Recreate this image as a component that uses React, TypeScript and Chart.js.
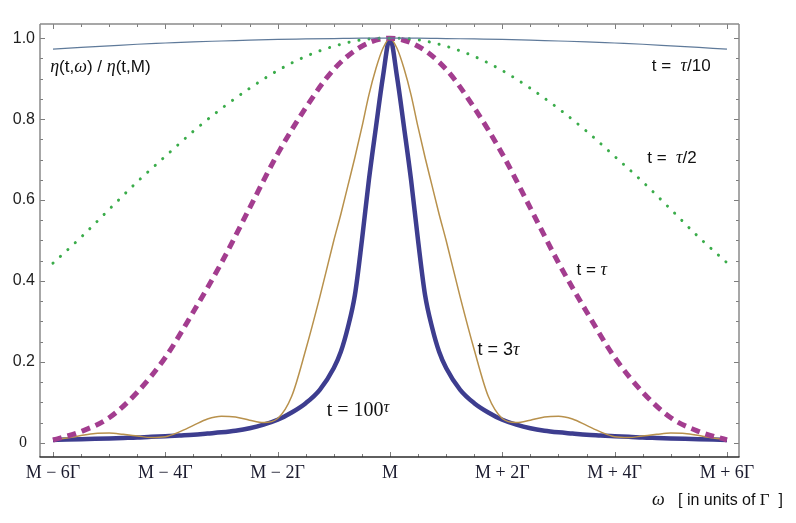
import React, { useEffect, useRef } from "react";
import { Chart, registerables } from "chart.js";

Chart.register(...registerables);

// ω grid in units of Γ, measured from M
const omegaCoarse = [-6, -5.5, -5, -4.5, -4, -3.5, -3, -2.5, -2, -1.5, -1, -0.5, 0, 0.5, 1, 1.5, 2, 2.5, 3, 3.5, 4, 4.5, 5, 5.5, 6];
const omegaFine = [
	-6, -5.75, -5.5, -5.25, -5, -4.75, -4.5, -4.25, -4, -3.75, -3.5, -3.25, -3, -2.75, -2.5, -2.25, -2, -1.75, -1.5, -1.25, -1,
	-0.875, -0.75, -0.625, -0.5, -0.375, -0.25, -0.125, 0, 0.125, 0.25, 0.375, 0.5, 0.625, 0.75, 0.875,
	1, 1.25, 1.5, 1.75, 2, 2.25, 2.5, 2.75, 3, 3.25, 3.5, 3.75, 4, 4.25, 4.5, 4.75, 5, 5.25, 5.5, 5.75, 6,
];

// η(t,ω)/η(t,M)
const etaTenth = [0.973, 0.977, 0.981, 0.985, 0.988, 0.991, 0.993, 0.995, 0.997, 0.998, 0.999, 1.0, 1.0, 1.0, 0.999, 0.998, 0.997, 0.995, 0.993, 0.991, 0.988, 0.985, 0.981, 0.977, 0.973];
const etaHalf = [0.444, 0.508, 0.577, 0.645, 0.708, 0.77, 0.826, 0.876, 0.92, 0.955, 0.98, 0.996, 1.0, 0.996, 0.98, 0.955, 0.92, 0.876, 0.826, 0.77, 0.708, 0.645, 0.577, 0.508, 0.445];
const etaOne = [0.007, 0.028, 0.062, 0.125, 0.211, 0.324, 0.445, 0.58, 0.714, 0.828, 0.923, 0.98, 1.0, 0.98, 0.923, 0.828, 0.714, 0.58, 0.445, 0.324, 0.211, 0.125, 0.062, 0.028, 0.007];
const etaThree = [
	0.008, 0.012, 0.018, 0.023, 0.024, 0.021, 0.017, 0.013, 0.015, 0.027, 0.043, 0.059, 0.066, 0.064, 0.056, 0.05, 0.06, 0.115, 0.23, 0.36, 0.5,
	0.565, 0.635, 0.705, 0.78, 0.86, 0.925, 0.975, 1.0, 0.975, 0.925, 0.86, 0.78, 0.705, 0.635, 0.565,
	0.5, 0.36, 0.23, 0.115, 0.06, 0.05, 0.056, 0.064, 0.066, 0.059, 0.043, 0.027, 0.015, 0.013, 0.017, 0.021, 0.024, 0.023, 0.018, 0.012, 0.008,
];
const etaHundred = [
	0.007, 0.008, 0.009, 0.01, 0.011, 0.012, 0.013, 0.015, 0.016, 0.018, 0.02, 0.023, 0.026, 0.03, 0.036, 0.045, 0.057, 0.075, 0.098, 0.131, 0.185,
	0.225, 0.285, 0.365, 0.5, 0.65, 0.78, 0.905, 1.0, 0.905, 0.78, 0.65, 0.5, 0.365, 0.285, 0.225,
	0.185, 0.131, 0.098, 0.075, 0.057, 0.045, 0.036, 0.03, 0.026, 0.023, 0.02, 0.018, 0.016, 0.015, 0.013, 0.012, 0.011, 0.01, 0.009, 0.008, 0.007,
];

const xTickValues = [-6, -4, -2, 0, 2, 4, 6];
const xTickLabels = ["M \u2212 6\u0393", "M \u2212 4\u0393", "M \u2212 2\u0393", "M", "M + 2\u0393", "M + 4\u0393", "M + 6\u0393"];
const yTickValues = [0, 0.2, 0.4, 0.6, 0.8, 1.0];
const yTickLabels = ["0", "0.2", "0.4", "0.6", "0.8", "1.0"];

const serifIt = (s: number) => `italic ${s}px "Liberation Serif"`;
const serif = (s: number) => `${s}px "Liberation Serif"`;
const sans = (s: number) => `${s}px "Liberation Sans"`;

type Part = { text: string; font: string; dy?: number };

// labels placed in data coordinates (left edge, baseline)
const curveNotes: { x: number; y: number; parts: Part[] }[] = [
	{
		x: -6.05, y: 0.916,
		parts: [
			{ text: "\u03b7", font: serifIt(18) }, { text: "(t,", font: sans(17) }, { text: "\u03c9", font: serifIt(18) },
			{ text: ") / ", font: sans(17) }, { text: "\u03b7", font: serifIt(18) }, { text: "(t,M)", font: sans(17) },
		],
	},
	{ x: 4.66, y: 0.919, parts: [{ text: "t =  ", font: sans(17) }, { text: "\u03c4", font: serifIt(18) }, { text: "/10", font: sans(17) }] },
	{ x: 4.58, y: 0.692, parts: [{ text: "t =  ", font: sans(17) }, { text: "\u03c4", font: serifIt(18) }, { text: "/2", font: sans(17) }] },
	{ x: 3.32, y: 0.415, parts: [{ text: "t = ", font: sans(17) }, { text: "\u03c4", font: serifIt(18) }] },
	{ x: 1.56, y: 0.217, parts: [{ text: "t = 3", font: sans(18) }, { text: "\u03c4", font: serifIt(18) }] },
	{ x: -1.127, y: 0.067, parts: [{ text: "t = 100", font: serif(20) }, { text: "\u03c4", font: serifIt(16), dy: -4 }] },
];

const axisTitle: Part[] = [
	{ text: "\u03c9", font: serifIt(18) },
	{ text: "   [ in units of ", font: sans(16) },
	{ text: "\u0393", font: serif(17) },
	{ text: "  ]", font: sans(16) },
];

const drawParts = (ctx: CanvasRenderingContext2D, parts: Part[], x: number, y: number) => {
	let cx = x;
	for (const p of parts) {
		ctx.font = p.font;
		ctx.fillText(p.text, cx, y + (p.dy || 0));
		cx += ctx.measureText(p.text).width;
	}
};

const framePlugin = {
	id: "mmaFrame",
	afterDraw(chart: any) {
		const { ctx, chartArea: a, scales } = chart;
		const xs = scales.x;
		const ys = scales.y;
		ctx.save();
		ctx.lineWidth = 1;
		ctx.strokeStyle = "#7d7d7d";
		const seg = (x1: number, y1: number, x2: number, y2: number) => {
			ctx.beginPath();
			ctx.moveTo(x1, y1);
			ctx.lineTo(x2, y2);
			ctx.stroke();
		};
		// inward ticks on all four sides
		for (let i = 0; i <= 24; i++) {
			const v = -6 + i * 0.5;
			const px = Math.round(xs.getPixelForValue(v)) + 0.5;
			const len = i % 4 === 0 ? 5 : 3;
			seg(px, a.bottom, px, a.bottom - len);
			seg(px, a.top, px, a.top + len);
		}
		for (let i = 0; i <= 20; i++) {
			const v = i * 0.05;
			const py = Math.round(ys.getPixelForValue(v)) + 0.5;
			const len = i % 4 === 0 ? 5 : 3;
			seg(a.left, py, a.left + len, py);
			seg(a.right, py, a.right - len, py);
		}
		// frame
		ctx.lineWidth = 1.5;
		ctx.strokeStyle = "#8a8a8a";
		seg(a.left, a.bottom, a.left, a.top);
		seg(a.left, a.top, a.right, a.top);
		seg(a.right, a.top, a.right, a.bottom);
		ctx.strokeStyle = "#2a2a2a";
		seg(a.left - 0.5, a.bottom, a.right + 0.5, a.bottom);

		// curve labels
		ctx.fillStyle = "#111111";
		ctx.textAlign = "left";
		ctx.textBaseline = "alphabetic";
		for (const n of curveNotes) {
			drawParts(ctx, n.parts, xs.getPixelForValue(n.x), ys.getPixelForValue(n.y));
		}
		drawParts(ctx, axisTitle, a.right - 87, a.bottom + 48);
		ctx.restore();
	},
};

const App: React.FC = () => {
	const chartRef = useRef<HTMLCanvasElement>(null);
	const chartInstance = useRef<Chart | null>(null);

	useEffect(() => {
		if (!chartRef.current) return;
		if (chartInstance.current) chartInstance.current.destroy();

		const pts = (xs: number[], ys: number[]) => xs.map((x, i) => ({ x, y: ys[i] }));
		const common = { pointRadius: 0, cubicInterpolationMode: "monotone" as const, fill: false };

		chartInstance.current = new Chart(chartRef.current, {
			type: "line",
			data: {
				datasets: [
					{ ...common, label: "t = τ/10", data: pts(omegaCoarse, etaTenth), borderColor: "#5f7a9a", borderWidth: 1.2 },
					{
						...common, label: "t = τ/2", data: pts(omegaCoarse, etaHalf), borderColor: "#3aac4a", borderWidth: 3,
						borderDash: [0.1, 10], borderCapStyle: "round",
					},
					{ ...common, label: "t = τ", data: pts(omegaCoarse, etaOne), borderColor: "#a33d8f", borderWidth: 5, borderDash: [9, 6] },
					{ ...common, label: "t = 3τ", data: pts(omegaFine, etaThree), borderColor: "#b8914c", borderWidth: 1.5 },
					{ ...common, label: "t = 100τ", data: pts(omegaFine, etaHundred), borderColor: "#3d3d8f", borderWidth: 4.5 },
				],
			},
			options: {
				animation: false,
				responsive: true,
				maintainAspectRatio: false,
				layout: { padding: { left: 0, top: 24, right: 57, bottom: 0 } },
				plugins: { legend: { display: false }, tooltip: { enabled: false } },
				scales: {
					x: {
						type: "linear",
						min: -6.231,
						max: 6.214,
						afterBuildTicks: (s: any) => {
							s.ticks = xTickValues.map((value) => ({ value }));
						},
						afterFit: (s: any) => {
							s.height = 66;
						},
						grid: { display: false, drawTicks: false },
						border: { display: false },
						ticks: {
							autoSkip: false,
							maxRotation: 0,
							padding: 5,
							color: "#1b1b2e",
							font: { family: "Liberation Serif", size: 18 },
							callback: (_v: any, i: number) => xTickLabels[i],
						},
					},
					y: {
						type: "linear",
						min: -0.035,
						max: 1.035,
						afterBuildTicks: (s: any) => {
							s.ticks = yTickValues.map((value) => ({ value }));
						},
						afterFit: (s: any) => {
							s.width = 40;
						},
						grid: { display: false, drawTicks: false },
						border: { display: false },
						ticks: {
							padding: 5,
							color: "#1e1e1e",
							font: (c: any) =>
								c.index === 0
									? { family: "Liberation Serif", size: 16 }
									: { family: "Liberation Sans", size: 16 },
							callback: (_v: any, i: number) => (i === 0 ? yTickLabels[i] + "\u2002" : yTickLabels[i]),
						},
					},
				},
			},
			plugins: [framePlugin],
		});

		return () => {
			if (chartInstance.current) {
				chartInstance.current.destroy();
				chartInstance.current = null;
			}
		};
	}, []);

	return (
		<div style={{ position: "fixed", left: 0, top: 0, width: 796, height: 523, background: "#ffffff" }}>
			<canvas ref={chartRef}></canvas>
		</div>
	);
};

export default App;
